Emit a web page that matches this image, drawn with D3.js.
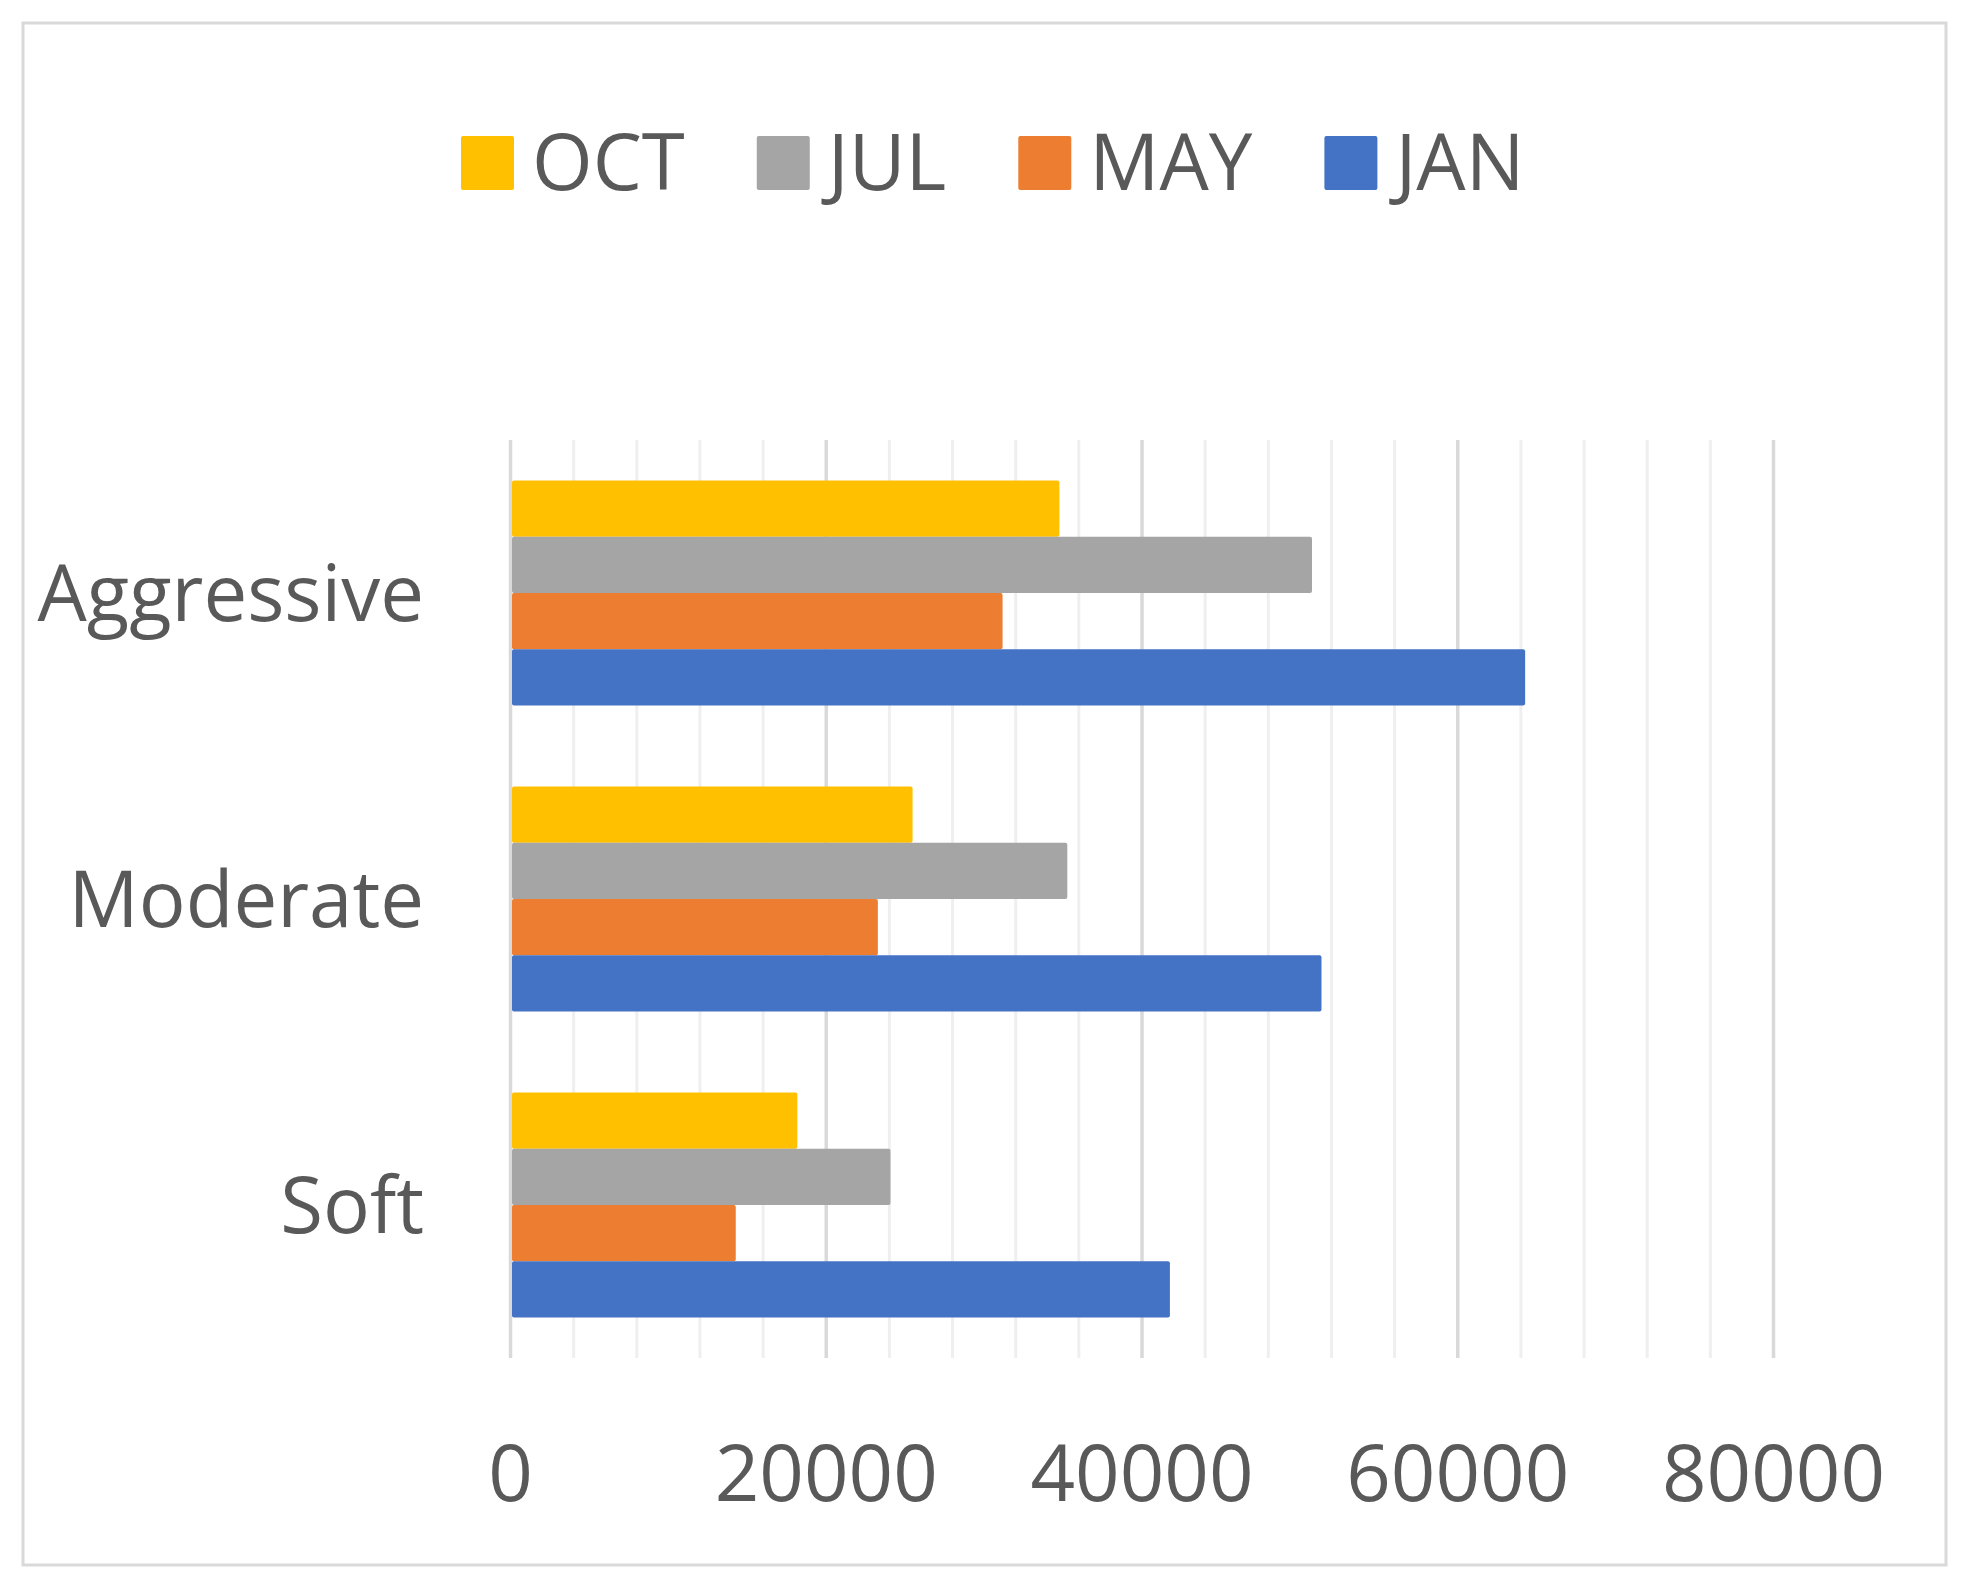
<!DOCTYPE html>
<html>
<head>
<meta charset="utf-8">
<script src="https://cdn.jsdelivr.net/npm/d3@7"></script>
<style>
  html, body { margin: 0; padding: 0; background: #fff; }
  svg text { font-family: "Open Sans", "Noto Sans", sans-serif; fill: #595959; }
</style>
</head>
<body>
<svg id="chart" width="1971" height="1593"></svg>
<script>
// ---- Data ----
const categories = ["Aggressive", "Moderate", "Soft"];
const seriesNames = ["OCT", "JUL", "MAY", "JAN"];
const OCT = [34800, 25500, 18200];
const JUL = [50800, 35300, 24100];
const MAY = [31200, 23300, 14300];
const JAN = [64300, 51400, 41800];
const seriesColors = ["#FFC000", "#A5A5A5", "#ED7D31", "#4472C4"];
const xTickValues = [0, 20000, 40000, 60000, 80000];
const xMinorStep = 4000;
const xMax = 80000;

const seriesValues = { OCT, JUL, MAY, JAN };

// ---- Layout ----
const svg = d3.select("#chart");
const W = 1971, H = 1593;
const plot = { left: 510, right: 1773, top: 440, bottom: 1358 };
const fontSize = 78;

svg.append("rect").attr("x", 0).attr("y", 0).attr("width", W).attr("height", H).attr("fill", "#fff");
// chart border
svg.append("rect")
  .attr("x", 23).attr("y", 23).attr("width", 1923).attr("height", 1542)
  .attr("fill", "#fff").attr("stroke", "#d9d9d9").attr("stroke-width", 3);

const x = d3.scaleLinear().domain([0, xMax]).range([plot.left, plot.right]);
const y = d3.scaleBand().domain(categories).range([plot.top, plot.bottom])
  .paddingInner(0.265).paddingOuter(0.1325);
const ySub = d3.scaleBand().domain(seriesNames).range([0, y.bandwidth()]).padding(0);

// minor gridlines
const minorTicks = d3.range(0, xMax + 1, xMinorStep).filter(v => !xTickValues.includes(v));
svg.append("g")
  .attr("transform", `translate(0,${plot.bottom})`)
  .call(d3.axisBottom(x).tickValues(minorTicks).tickSize(-(plot.bottom - plot.top)).tickFormat(""))
  .call(g => g.select(".domain").remove())
  .call(g => g.selectAll("line").attr("stroke", "#efefef").attr("stroke-width", 3));

// major gridlines
svg.append("g")
  .attr("transform", `translate(0,${plot.bottom})`)
  .call(d3.axisBottom(x).tickValues(xTickValues).tickSize(-(plot.bottom - plot.top)).tickFormat(""))
  .call(g => g.select(".domain").remove())
  .call(g => g.selectAll("line").attr("stroke", "#d9d9d9").attr("stroke-width", 3.5));

// bars
const groups = svg.append("g").selectAll("g")
  .data(categories).join("g")
  .attr("transform", d => `translate(0,${y(d)})`);

groups.selectAll("rect")
  .data((c, i) => seriesNames.map((s, j) => ({ s, v: seriesValues[s][i], color: seriesColors[j] })))
  .join("rect")
  .attr("x", x(0) + 2)
  .attr("y", d => ySub(d.s))
  .attr("width", d => x(d.v) - x(0) - 2)
  .attr("height", ySub.bandwidth())
  .attr("rx", 2)
  .attr("fill", d => d.color);

// x tick labels
svg.append("g")
  .attr("transform", `translate(0,${plot.bottom})`)
  .call(d3.axisBottom(x).tickValues(xTickValues).tickSize(0).tickFormat(d3.format("d")))
  .call(g => g.select(".domain").remove())
  .call(g => g.selectAll("text")
    .attr("y", 143).attr("dy", 0)
    .attr("font-size", fontSize)
    .attr("font-family", null)
    .attr("fill", "#595959"));

// y category labels
svg.append("g")
  .attr("transform", `translate(424,0)`)
  .call(d3.axisLeft(y).tickSize(0).tickPadding(0))
  .call(g => g.select(".domain").remove())
  .call(g => g.selectAll("text")
    .attr("x", 0).attr("dy", "0.36em")
    .attr("font-size", fontSize)
    .attr("font-family", null)
    .attr("fill", "#595959"));

// legend
const legend = svg.append("g");
let lx = 461;
seriesNames.forEach((name, i) => {
  legend.append("rect")
    .attr("x", lx).attr("y", 136).attr("width", 53).attr("height", 54)
    .attr("rx", 2)
    .attr("fill", seriesColors[i]);
  const t = legend.append("text")
    .attr("x", lx + 53 + 18).attr("y", 190)
    .attr("font-size", fontSize)
    .text(name);
  const w = t.node().getComputedTextLength();
  lx = lx + 53 + 18 + w + 72;
});
</script>
</body>
</html>
